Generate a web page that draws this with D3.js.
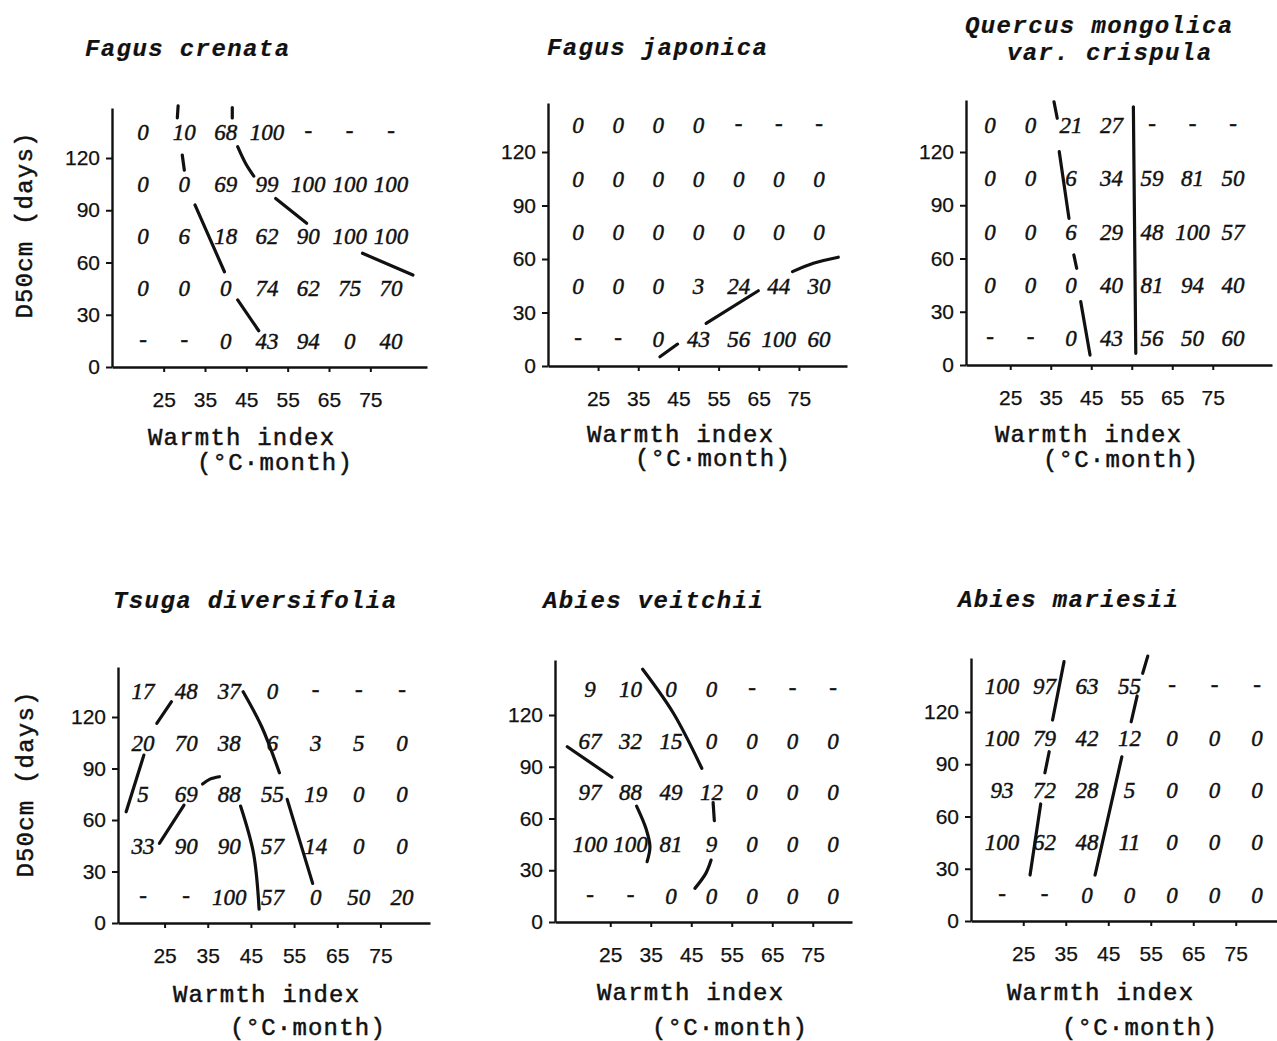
<!DOCTYPE html>
<html>
<head>
<meta charset="utf-8">
<script src="https://cdn.jsdelivr.net/npm/d3@7"></script>
<style>
  html, body { margin: 0; padding: 0; background: #fff; }
  svg { display: block; }
  .cell { font-family: "Liberation Serif", "Times New Roman", serif; font-style: italic; font-size: 23px; fill: #111; stroke: #111; stroke-width: 0.45px; }
  .tick text { font-family: "Liberation Sans", Arial, sans-serif; font-size: 21px; fill: #111; stroke: #111; stroke-width: 0.25px; }
  .tick line { stroke: #111; stroke-width: 2px; }
  .domain { stroke: #111; stroke-width: 2.4px; }
  .mono { font-family: "Liberation Mono", "Courier New", monospace; font-size: 24px; fill: #111; stroke: #111; stroke-width: 0.5px; letter-spacing: 1.2px; }
  .title { font-weight: bold; font-style: italic; letter-spacing: 1.4px; stroke-width: 0.2px; }
  .iso { fill: none; stroke: #111; stroke-width: 3.2px; stroke-linecap: round; stroke-linejoin: round; }
</style>
</head>
<body>
<svg id="chart" width="1277" height="1041"></svg>
<script>
// Warmth-index classes (column centres) and D50cm classes (row centres, top to bottom)
const warmthCols = [20, 30, 40, 50, 60, 70, 80];
const d50Rows = [135, 105, 75, 45, 15];
const xTicks = [25, 35, 45, 55, 65, 75];
const yTicks = [0, 30, 60, 90, 120];

// Percentages per cell; null = no stations in that class ("-")
const fagusCrenata = [
  [0, 10, 68, 100, null, null, null],
  [0, 0, 69, 99, 100, 100, 100],
  [0, 6, 18, 62, 90, 100, 100],
  [0, 0, 0, 74, 62, 75, 70],
  [null, null, 0, 43, 94, 0, 40]
];
const fagusJaponica = [
  [0, 0, 0, 0, null, null, null],
  [0, 0, 0, 0, 0, 0, 0],
  [0, 0, 0, 0, 0, 0, 0],
  [0, 0, 0, 3, 24, 44, 30],
  [null, null, 0, 43, 56, 100, 60]
];
const quercusCrispula = [
  [0, 0, 21, 27, null, null, null],
  [0, 0, 6, 34, 59, 81, 50],
  [0, 0, 6, 29, 48, 100, 57],
  [0, 0, 0, 40, 81, 94, 40],
  [null, null, 0, 43, 56, 50, 60]
];
const tsugaDiversifolia = [
  [17, 48, 37, 0, null, null, null],
  [20, 70, 38, 6, 3, 5, 0],
  [5, 69, 88, 55, 19, 0, 0],
  [33, 90, 90, 57, 14, 0, 0],
  [null, null, 100, 57, 0, 50, 20]
];
const abiesVeitchii = [
  [9, 10, 0, 0, null, null, null],
  [67, 32, 15, 0, 0, 0, 0],
  [97, 88, 49, 12, 0, 0, 0],
  [100, 100, 81, 9, 0, 0, 0],
  [null, null, 0, 0, 0, 0, 0]
];
const abiesMariesii = [
  [100, 97, 63, 55, null, null, null],
  [100, 79, 42, 12, 0, 0, 0],
  [93, 72, 28, 5, 0, 0, 0],
  [100, 62, 48, 11, 0, 0, 0],
  [null, null, 0, 0, 0, 0, 0]
];

// Boundary strokes, as [warmth index, D50cm] points
const fagusCrenataIso = [
  [[28.5, 150], [28.3, 143]],
  [[41.6, 149], [41.6, 143]],
  [[29.5, 121.7], [30, 113]],
  [[32.6, 93], [39.7, 54.7]],
  [[42.9, 38.5], [48, 20.8]],
  [[42.9, 126.5], [44.8, 117], [46.8, 109.6]],
  [[52.1, 96.8], [59.6, 82.5]],
  [[73.1, 65.3], [85.3, 52.8]]
];
const fagusJaponicaIso = [
  [[40.4, 5.2], [44.8, 12.3]],
  [[51.9, 23.9], [64.9, 42.2]],
  [[73.4, 52.9], [78.6, 57.6], [84.8, 61]]
];
const quercusCrispulaIso = [
  [[35.8, 148.3], [36.6, 139]],
  [[37.1, 120.2], [39.5, 82.6]],
  [[40.7, 62], [41.4, 54.5]],
  [[42.4, 35.7], [44.7, 5.6]],
  [[55.4, 145.5], [56, 6.6]]
];
const tsugaDiversifoliaIso = [
  [[26.6, 128.9], [23.2, 116.3]],
  [[20.2, 97.8], [16.1, 64.8]],
  [[33.8, 81], [35.5, 83.8], [37.7, 85.2]],
  [[29.5, 68.7], [23.8, 46.4]],
  [[43.2, 134.7], [47.5, 114.3], [51.6, 87.5]],
  [[42.6, 68.1], [45.6, 40.6], [46.9, 8]],
  [[53.4, 72], [59.3, 23.1]]
];
const abiesVeitchiiIso = [
  [[33, 146.5], [40.6, 121], [47.6, 89.1]],
  [[14.4, 101.6], [25.4, 83.9]],
  [[31.5, 67.2], [33.8, 54.3], [34.8, 43.7], [34.1, 35]],
  [[50.4, 69.2], [50.7, 58.7]],
  [[49.9, 35.9], [48.6, 28.2], [45.9, 19.5]]
];
const abiesMariesiiIso = [
  [[34.6, 148.9], [31.9, 115.4]],
  [[31.1, 97.2], [30.1, 85.1]],
  [[29.1, 67.2], [26.6, 26.4]],
  [[54.3, 152.1], [53.1, 142.2]],
  [[51.8, 129.2], [50.4, 114.4]],
  [[48.2, 94.3], [41.9, 26.4]]
];

const panels = [
  { title: ["Fagus crenata"], values: fagusCrenata, iso: fagusCrenataIso, yTitle: true },
  { title: ["Fagus japonica"], values: fagusJaponica, iso: fagusJaponicaIso },
  { title: ["Quercus mongolica", "var. crispula"], values: quercusCrispula, iso: quercusCrispulaIso },
  { title: ["Tsuga diversifolia"], values: tsugaDiversifolia, iso: tsugaDiversifoliaIso, yTitle: true },
  { title: ["Abies veitchii"], values: abiesVeitchii, iso: abiesVeitchiiIso },
  { title: ["Abies mariesii"], values: abiesMariesii, iso: abiesMariesiiIso }
];

// Page placement of each small plot
const layout = [
  { axisX: 112, y0: 367, y120: 158, yTop: 108, right: 427, c0: 143, c6: 391,
    titleX: [85], titleY: [56], wi: [148, 445], unit: [197, 470], yt: [32, 225] },
  { axisX: 548, y0: 366, y120: 152, yTop: 103, right: 847, c0: 578, c6: 819,
    titleX: [547], titleY: [55], wi: [587, 442], unit: [635, 466] },
  { axisX: 966, y0: 365, y120: 152, yTop: 100, right: 1272, c0: 990, c6: 1233,
    titleX: [965, 1007], titleY: [33, 60], wi: [995, 442], unit: [1043, 467] },
  { axisX: 118, y0: 923, y120: 717, yTop: 667, right: 430, c0: 143, c6: 402,
    titleX: [113], titleY: [608], wi: [173, 1002], unit: [230, 1035], yt: [33, 784] },
  { axisX: 555, y0: 922, y120: 715, yTop: 660, right: 852, c0: 590, c6: 833,
    titleX: [543], titleY: [608], wi: [597, 1000], unit: [652, 1035] },
  { axisX: 971, y0: 921, y120: 712, yTop: 658, right: 1277, c0: 1002, c6: 1257,
    titleX: [958], titleY: [607], wi: [1007, 1000], unit: [1062, 1035] }
];

const svg = d3.select("#chart");

panels.forEach((p, i) => {
  const L = layout[i];
  const g = svg.append("g").attr("class", "panel");

  const x = d3.scaleLinear().domain([20, 80]).range([L.c0, L.c6]);
  const y = d3.scaleLinear().domain([0, 120]).range([L.y0, L.y120]);
  // axis scales reach the drawn ends of each axis line
  const xAxisScale = d3.scaleLinear().domain([x.invert(L.axisX), x.invert(L.right)]).range([L.axisX, L.right]);
  const yAxisScale = d3.scaleLinear().domain([0, y.invert(L.yTop)]).range([L.y0, L.yTop]);

  g.append("g")
    .attr("transform", `translate(0,${L.y0})`)
    .call(d3.axisBottom(xAxisScale).tickValues(xTicks).tickSize(5).tickSizeOuter(0).tickPadding(20));

  g.append("g")
    .attr("transform", `translate(${L.axisX},0)`)
    .call(d3.axisLeft(yAxisScale).tickValues(yTicks).tickSize(6).tickSizeOuter(0).tickPadding(6));

  // cell values
  p.values.forEach((row, r) => {
    row.forEach((v, c) => {
      g.append("text")
        .attr("class", "cell")
        .attr("x", x(warmthCols[c]))
        .attr("y", y(d50Rows[r]))
        .attr("dy", v === null ? "0.25em" : "0.34em")
        .attr("text-anchor", "middle")
        .text(v === null ? "-" : v);
    });
  });

  // boundary strokes
  const line = d3.line().x(d => x(d[0])).y(d => y(d[1])).curve(d3.curveCatmullRom);
  g.selectAll("path.iso").data(p.iso).join("path").attr("class", "iso").attr("d", line);

  // titles
  p.title.forEach((t, k) => {
    g.append("text").attr("class", "mono title")
      .attr("x", L.titleX[k]).attr("y", L.titleY[k]).text(t);
  });

  g.append("text").attr("class", "mono").attr("x", L.wi[0]).attr("y", L.wi[1]).text("Warmth index");
  g.append("text").attr("class", "mono").attr("x", L.unit[0]).attr("y", L.unit[1]).text("(°C·month)");

  if (p.yTitle) {
    g.append("text").attr("class", "mono")
      .attr("transform", `translate(${L.yt[0]},${L.yt[1]}) rotate(-90)`)
      .attr("text-anchor", "middle")
      .text("D50cm (days)");
  }
});
</script>
</body>
</html>
